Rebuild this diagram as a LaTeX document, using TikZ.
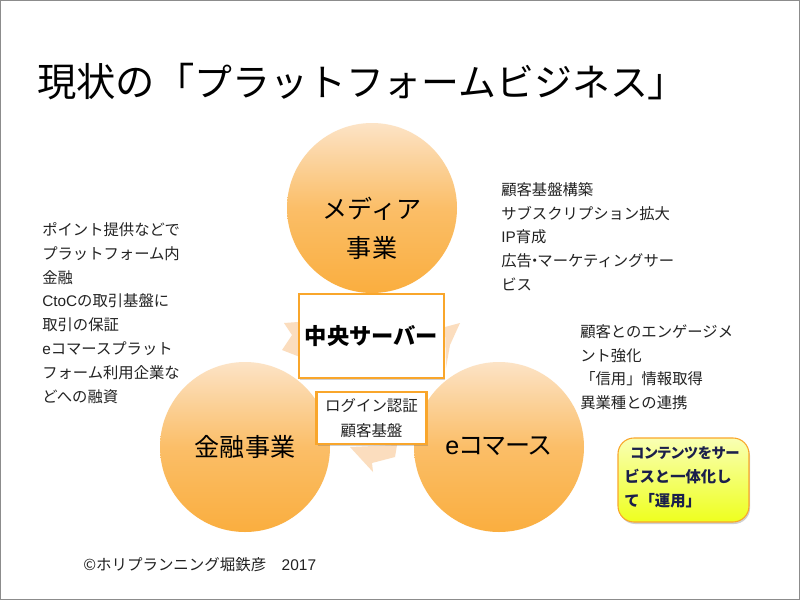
\documentclass[tikz,border=0pt]{standalone}
\usepackage{fontspec}
\setmainfont{Noto Sans CJK JP}
\newfontfamily\pf[RawFeature=+palt]{Noto Sans CJK JP}
\newfontfamily\lat{Liberation Sans}
\usetikzlibrary{shadows}
\definecolor{orbo}{HTML}{FAAE3F}
\definecolor{ortop}{HTML}{FCE3C6}
\definecolor{boxo}{HTML}{F9A62B}
\definecolor{arrowo}{HTML}{FBDDBE}
\definecolor{navy}{HTML}{1B1F4B}
\definecolor{txt}{HTML}{222222}
\definecolor{yeltop}{HTML}{F9FFB4}
\definecolor{yelbot}{HTML}{EEFF1E}
\newlength{\pxu}\setlength{\pxu}{0.75pt}
\tikzset{
 hub/.style={circle,minimum size=170\pxu,inner sep=0pt,top color=ortop,bottom color=orbo,middle color=orbo!70!ortop},
 hubtext/.style={inner sep=0pt,align=center,text=black,font=\fontsize{18.8pt}{29.3pt}\selectfont},
 notes/.style={anchor=north west,inner sep=0pt,align=left,text=txt,font=\fontsize{11.5pt}{17.9pt}\selectfont},
 back/.style={fill=arrowo,draw=none},
 softshadow/.style={drop shadow={shadow xshift=0.8pt,shadow yshift=-1.5pt,opacity=0.3,fill=black!60}},
 panel/.style={draw=boxo,line width=2.2pt,fill=white,inner sep=0pt,align=center,softshadow},
}
\begin{document}
\begin{tikzpicture}[x=0.75pt,y=-0.75pt]
\useasboundingbox (0,0) rectangle (800,600);
\fill[white] (0,0) rectangle (800,600);
\draw[gray!90,line width=1.5pt] (0,0) -- (800,0) (0,0) -- (0,600) (799.5,0) -- (799.5,600) (0,599.5) -- (800,599.5);
\node[anchor=west,inner sep=0pt,font=\fontsize{29.5pt}{36pt}\selectfont] (title) at (37,82) {現状の「{\fontsize{28.4pt}{36pt}\selectfont プラットフォームビジネス}」};
% circular arrows behind the boxes
\fill[back] (284,323) -- (298,322) -- (300,357) -- (282,350) -- (292,335) -- cycle;
\fill[back] (445,327) -- (460,323) -- (450,345) -- (446,368) -- cycle;
\fill[back] (350,447) -- (397,445) -- (395,457) -- (372,463) -- (373,472) -- cycle;
% hubs
\node[hub] (media) at (372,208) {};
\node[hub] (fin) at (245,447) {};
\node[hub] (ec) at (499,447) {};
\node[hubtext] (mediatext) at (372,228) {メディア\\事業};
\node[hubtext] (fintext) at (245,447) {金融事業};
\node[hubtext] (ectext) at (498.5,446) {{\lat e}{\pf コマース}};
% centre panels
\node[panel,minimum width=145\pxu,minimum height=84\pxu,font=\bfseries\fontsize{16.7pt}{20pt}\selectfont] (server) at (371.5,336) {中央サーバー};
\node[panel,minimum width=110\pxu,minimum height=52\pxu,text=txt,font=\fontsize{11.6pt}{18.4pt}\selectfont] (login) at (371.5,418) {ログイン認証\\顧客基盤};
% notes
\node[notes] (left) at (42,222) {ポイント提供などで\\プラットフォーム内\\金融\\{\lat CtoC}の取引基盤に\\取引の保証\\{\lat e}コマースプラット\\フォーム利用企業な\\どへの融資};
\node[notes] (top) at (501,182) {顧客基盤構築\\サブスクリプション拡大\\{\lat IP}育成\\広告\kern-.32em ・\kern-.32em マーケティングサー\\ビス};
\node[notes] (right) at (580,324) {顧客とのエンゲージメ\\ント強化\\「信用」情報取得\\異業種との連携};
\node[draw=boxo,line width=0.8pt,rounded corners=16\pxu,top color=yeltop,bottom color=yelbot,
  minimum width=131\pxu,minimum height=84\pxu,inner sep=0pt,softshadow] (note) at (683.5,480) {};
\node[anchor=north west,inner sep=0pt,align=left,text=navy,font=\bfseries\fontsize{11.5pt}{18pt}\selectfont] (notetext) at (624,446) {\hspace{0.4em}{\pf\fontsize{10.8pt}{18pt}\selectfont コンテンツをサー}\\ビスと一体化し\\て「運用」};
\node[anchor=west,inner sep=0pt,text=txt,font=\fontsize{11.6pt}{14pt}\selectfont] (foot) at (83,565) {©ホリプランニング堀鉄彦　{\lat 2017}};
\end{tikzpicture}
\end{document}
